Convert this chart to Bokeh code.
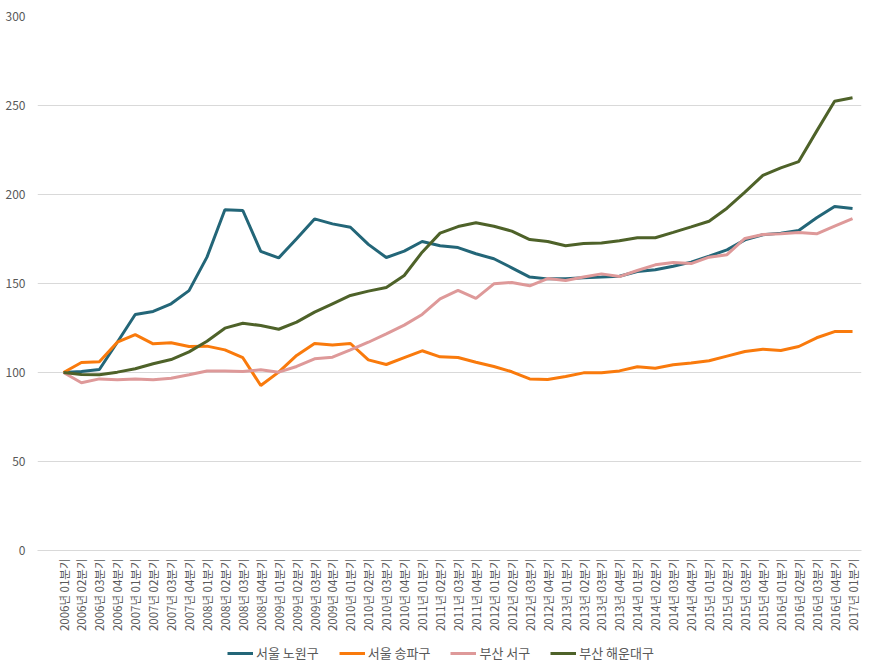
import math
from bokeh.plotting import figure
from bokeh.layouts import column
from bokeh.models import Range1d, FixedTicker, Legend, LegendItem
from bokeh.embed import file_html
from bokeh.resources import INLINE

years = list(range(2006, 2018))
quarters = [f"{y}년 {q:02d}분기" for y in years for q in range(1, 5)][:45]

nowon = [100, 100.5, 101.7, 117, 132.6, 134.3, 138.6, 146, 164.8, 191.4,
         191, 168, 164.4, 175.1, 186.3, 183.5, 181.6, 172, 164.6, 168.2,
         173.6, 171.2, 170.2, 166.7, 163.9, 158.8, 153.6, 152.6, 152.6, 153.2,
         153.6, 154.1, 156.7, 157.7, 159.7, 162, 165.4, 168.9, 174.5, 177.4,
         178.3, 179.8, 186.9, 193.3, 192.1]
songpa = [100, 105.6, 106, 117, 121.3, 116.1, 116.7, 114.6, 114.8, 112.7,
          108.3, 92.7, 100.2, 109.6, 116.3, 115.5, 116.3, 107.1, 104.5, 108.4,
          112.2, 108.8, 108.4, 105.8, 103.4, 100.4, 96.4, 96.1, 97.8, 99.8,
          99.8, 100.9, 103.2, 102.4, 104.3, 105.4, 106.6, 109.2, 111.8, 113.1,
          112.4, 114.6, 119.5, 123, 123]
seogu = [100, 94.2, 96.4, 95.9, 96.3, 95.9, 96.8, 98.7, 100.8, 100.8,
         100.6, 101.5, 100.2, 103.4, 107.7, 108.6, 112.7, 117, 121.7, 126.6,
         132.6, 141.4, 146.1, 141.6, 149.8, 150.6, 148.7, 152.8, 151.7, 153.6,
         155.4, 153.9, 157.3, 160.5, 161.8, 161.2, 164.8, 166.2, 175.3, 177.5,
         177.9, 178.7, 177.9, 182.2, 186.5]
haeundae = [100, 98.9, 98.7, 100.2, 102.1, 104.9, 107.3, 111.6, 117.6, 124.9,
            127.7, 126.4, 124.3, 128.3, 133.9, 138.6, 143.3, 145.7, 147.8, 154.5,
            167.6, 178.3, 182, 184.1, 182.2, 179.4, 174.7, 173.6, 171.2, 172.5,
            172.8, 174, 175.7, 175.7, 178.7, 181.8, 185, 192.3, 201.3, 210.7,
            215, 218.5, 235.6, 252.4, 254.3]

series_names = ["서울 노원구", "서울 송파구", "부산 서구", "부산 해운대구"]
series_values = [nowon, songpa, seogu, haeundae]
colors = ["#236678", "#F97A0C", "#DE9999", "#4E6229"]

y_ticks = [0, 50, 100, 150, 200, 250, 300]
xs = list(range(len(quarters)))

FONT = "Noto Sans CJK KR"
TXT = "#595959"

p = figure(width=869, height=643, output_backend="svg", toolbar_location=None,
           x_range=Range1d(-1.45, len(quarters) - 0.5), y_range=Range1d(0, 300),
           min_border_left=37, min_border_right=8, min_border_top=16,
           min_border_bottom=93)
p.outline_line_color = None
p.xgrid.grid_line_color = None
p.ygrid.grid_line_color = "#D9D9D9"
p.ygrid.grid_line_width = 1

for ax in (p.xaxis[0], p.yaxis[0]):
    ax.major_tick_line_color = None
    ax.minor_tick_line_color = None
    ax.major_tick_out = 0
    ax.major_tick_in = 0
    ax.minor_tick_out = 0
    ax.minor_tick_in = 0
    ax.major_label_text_font = FONT
    ax.major_label_text_color = TXT

p.yaxis.ticker = FixedTicker(ticks=y_ticks)
p.yaxis.axis_line_color = None
p.yaxis.major_label_standoff = 12
p.yaxis.major_label_text_font_size = "12px"

p.xaxis.ticker = FixedTicker(ticks=xs)
p.xaxis.major_label_overrides = {i: q for i, q in enumerate(quarters)}
p.xaxis.major_label_orientation = math.pi / 2
p.xaxis.axis_line_color = "#D9D9D9"
p.xaxis.major_label_standoff = 8
p.xaxis.major_label_text_font_size = "11.5px"

for name, vals, c in zip(series_names, series_values, colors):
    p.line(xs, vals, line_color=c, line_width=3)

# legend strip (same borders as the main plot so the column aligns cleanly)
p2 = figure(width=869, height=20, output_backend="svg", toolbar_location=None,
            x_range=Range1d(-100, -99), y_range=Range1d(-100, -99),
            min_border_left=37, min_border_right=8, min_border_top=0,
            min_border_bottom=0)
p2.axis.visible = False
p2.grid.visible = False
p2.outline_line_color = None

items = []
for name, vals, c in zip(series_names, series_values, colors):
    r = p2.line(xs, vals, line_color=c, line_width=3)
    items.append(LegendItem(label=name, renderers=[r]))

legend = Legend(items=items, orientation="horizontal", location=(190, 1),
                border_line_color=None, background_fill_alpha=0,
                label_text_font=FONT, label_text_font_size="13px",
                label_text_color=TXT, glyph_width=26, glyph_height=16,
                label_standoff=3, label_height=16,
                spacing=20, padding=1, margin=0)
p2.add_layout(legend, "center")

open("out.html", "w").write(file_html(column(p, p2), INLINE))
